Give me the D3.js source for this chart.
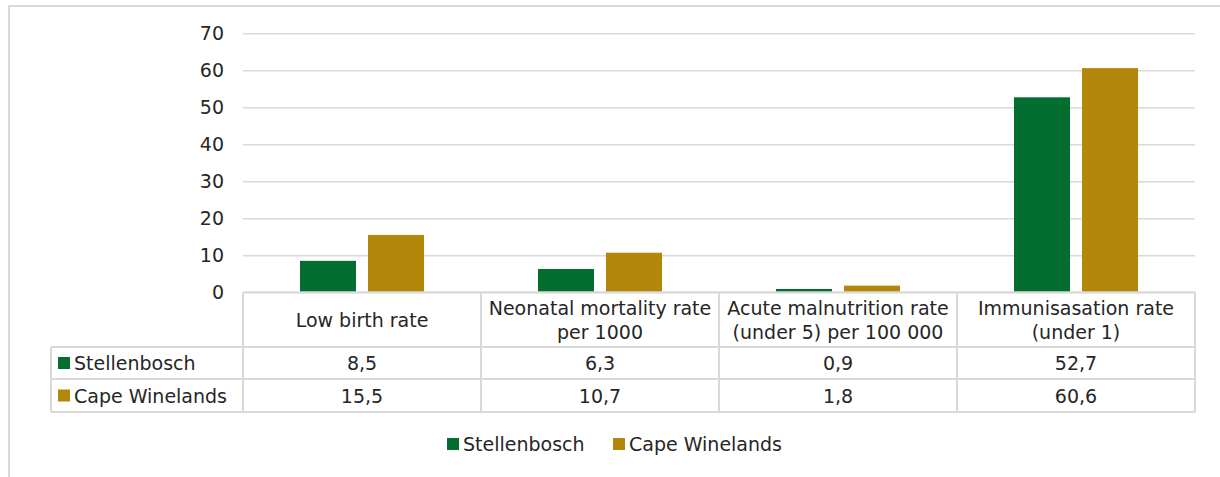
<!DOCTYPE html>
<html><head><meta charset="utf-8">
<script src="https://cdn.jsdelivr.net/npm/d3@7"></script>
<style>
html,body{margin:0;padding:0;background:#fff;}
svg{display:block;}
text{font-family:"DejaVu Sans",sans-serif;fill:#262626;}
</style></head>
<body>
<svg id="chart" width="1220" height="477"></svg>
<script>
const categories = ["Low birth rate", "Neonatal mortality rate per 1000", "Acute malnutrition rate (under 5) per 100 000", "Immunisasation rate (under 1)"];
const categoryLines = [["Low birth rate"], ["Neonatal mortality rate", "per 1000"], ["Acute malnutrition rate", "(under 5) per 100 000"], ["Immunisasation rate", "(under 1)"]];
const seriesNames = ["Stellenbosch", "Cape Winelands"];
const stellenbosch = [8.5, 6.3, 0.9, 52.7];
const capeWinelands = [15.5, 10.7, 1.8, 60.6];
const tableStellenbosch = ["8,5", "6,3", "0,9", "52,7"];
const tableCapeWinelands = ["15,5", "10,7", "1,8", "60,6"];
const yTicks = [0, 10, 20, 30, 40, 50, 60, 70];
const colors = ["#036E30", "#B3870A"];

(function () {
const svg = d3.select("#chart");
const fs = 19;
const grid = "#D9D9D9";

// chart border
svg.append("rect").attr("x", 9).attr("y", 6).attr("width", 1400).attr("height", 700)
  .attr("fill", "none").attr("stroke", grid).attr("stroke-width", 2);

const pLeft = 243, pRight = 1195, pTop = 33.3, pBottom = 292.3;
const x = d3.scaleBand().domain(categories).range([pLeft, pRight]).padding(0);
const inner = d3.scaleBand().domain(seriesNames).range([0, x.bandwidth()])
  .paddingInner(0.176).paddingOuter(0.838);
const y = d3.scaleLinear().domain([0, 70]).range([pBottom, pTop]);

// gridlines + y labels via axis
const yAxis = d3.axisLeft(y).tickValues(yTicks).tickSize(-(pRight - pLeft)).tickPadding(19).tickFormat(d3.format("d"));
const ga = svg.append("g").attr("transform", `translate(${pLeft},0)`).call(yAxis);
ga.select(".domain").remove();
ga.selectAll(".tick line").attr("stroke", grid).attr("stroke-width", 1.5);
ga.selectAll(".tick text").attr("font-size", fs).attr("font-family", '"DejaVu Sans",sans-serif').attr("fill", "#262626");

// bars
const series = [stellenbosch, capeWinelands];
series.forEach((vals, si) => {
  svg.append("g").selectAll("rect").data(vals).join("rect")
    .attr("x", (d, i) => x(categories[i]) + inner(seriesNames[si]))
    .attr("width", inner.bandwidth())
    .attr("y", d => y(d))
    .attr("height", d => y(0) - y(d))
    .attr("fill", colors[si]);
});

// data table
const rowTop = pBottom, hdrBottom = 347, row1Bottom = 379, row2Bottom = 412, tableLeft = 51;
const t = svg.append("g").attr("stroke", grid).attr("stroke-width", 2).attr("fill", "none");
t.append("line").attr("x1", pLeft).attr("x2", pRight).attr("y1", rowTop).attr("y2", rowTop);
[hdrBottom, row1Bottom, row2Bottom].forEach(yy => t.append("line").attr("x1", tableLeft).attr("x2", pRight).attr("y1", yy).attr("y2", yy));
const bounds = categories.map(c => x(c)).concat([pRight]);
bounds.forEach(xx => t.append("line").attr("x1", xx).attr("x2", xx).attr("y1", rowTop).attr("y2", row2Bottom));
t.append("line").attr("x1", tableLeft).attr("x2", tableLeft).attr("y1", hdrBottom).attr("y2", row2Bottom);

// header text
categories.forEach((c, i) => {
  const lines = categoryLines[i];
  const cx = x(c) + x.bandwidth() / 2;
  const midY = (rowTop + hdrBottom) / 2;
  const lh = 24;
  lines.forEach((ln, j) => {
    svg.append("text").attr("x", cx).attr("y", midY + (j - (lines.length - 1) / 2) * lh + 7)
      .attr("text-anchor", "middle").attr("font-size", fs).text(ln);
  });
});

// rows
const rows = [[tableStellenbosch, hdrBottom, row1Bottom], [tableCapeWinelands, row1Bottom, row2Bottom]];
rows.forEach(([vals, y0, y1], ri) => {
  const cy = (y0 + y1) / 2;
  svg.append("rect").attr("x", 58).attr("y", cy - 6).attr("width", 12).attr("height", 12).attr("fill", colors[ri]);
  svg.append("text").attr("x", 74).attr("y", cy + 7).attr("font-size", fs).text(seriesNames[ri]);
  vals.forEach((v, i) => {
    svg.append("text").attr("x", x(categories[i]) + x.bandwidth() / 2).attr("y", cy + 7)
      .attr("text-anchor", "middle").attr("font-size", fs).text(v);
  });
});

// legend
const legend = svg.append("g");
const lx = [447, 613];
seriesNames.forEach((s, i) => {
  legend.append("rect").attr("x", lx[i]).attr("y", 438).attr("width", 12).attr("height", 12).attr("fill", colors[i]);
  legend.append("text").attr("x", lx[i] + 16).attr("y", 451).attr("font-size", fs).text(s);
});
})();
</script>
</body></html>
